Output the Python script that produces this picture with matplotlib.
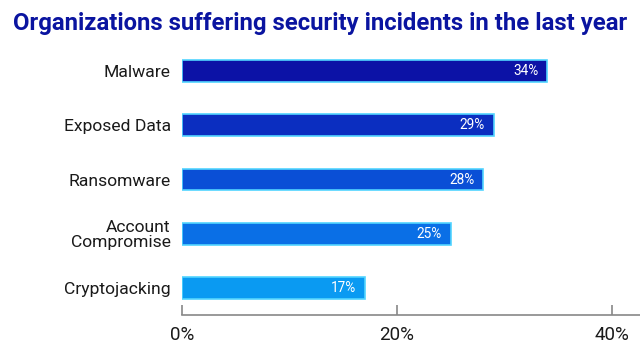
import matplotlib
matplotlib.use('Agg')
import matplotlib.pyplot as plt

# data
categories = ['Malware', 'Exposed Data', 'Ransomware', 'Account\nCompromise', 'Cryptojacking']
values = [34, 29, 28, 25, 17]
bar_colors = ['#0c12a6', '#0b2ec0', '#0a4fd6', '#0a6fe6', '#0a9af2']
xticks = [0, 20, 40]
xtick_labels = ['0%', '20%', '40%']

plt.rcParams['font.family'] = ['Roboto', 'DejaVu Sans']

fig = plt.figure(figsize=(6.4, 3.52), dpi=100)
ax = fig.add_axes([0.284, 0.105, 0.716, 0.77])

ypos = list(range(len(categories)))
ax.barh(ypos, values, height=0.4, color=bar_colors,
        edgecolor='#52d4ff', linewidth=1.2)

for y, v in zip(ypos, values):
    ax.text(v - 0.8, y, f'{v}%', color='white', fontsize=9.8,
            ha='right', va='center')

ax.set_ylim(4.5, -0.5)
ax.set_xlim(0, 42.6)
ax.set_yticks(ypos)
ax.set_yticklabels(categories, fontsize=12.6, color='#1a1a1a', linespacing=0.95)
ax.tick_params(axis='y', length=0, pad=8)
ax.set_xticks(xticks)
ax.set_xticklabels(xtick_labels, fontsize=13.5, color='#1a1a1a')
ax.tick_params(axis='x', direction='in', length=7, width=1.2, color='#888888', pad=8)

for s in ['top', 'right', 'left']:
    ax.spines[s].set_visible(False)
ax.spines['bottom'].set_color('#888888')
ax.spines['bottom'].set_linewidth(1.2)

fig.text(0.5, 0.915, 'Organizations suffering security incidents in the last year',
         ha='center', va='baseline', fontsize=17.2, fontweight='bold', color='#0a14a0')

fig.savefig('out.png', dpi=100)
